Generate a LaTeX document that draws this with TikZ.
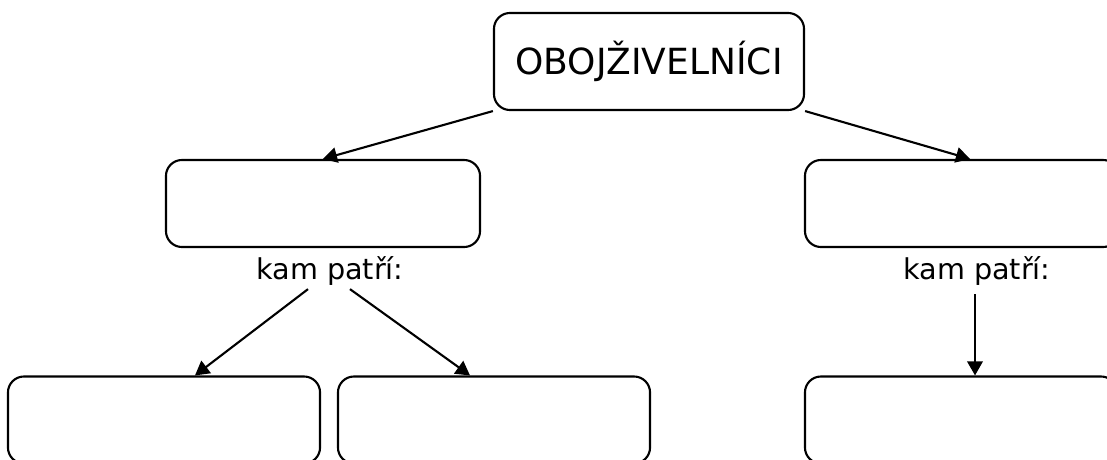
\documentclass[tikz,border=0pt]{standalone}
\usepackage{fontspec}
\setmainfont{DejaVu Sans}
\usetikzlibrary{arrows.meta,calc}

\tikzset{
  box/.style={draw, line width=1.5pt, rounded corners=0.4cm, minimum width=7.85cm, minimum height=2.175cm},
  rootbox/.style={box, minimum width=7.75cm, minimum height=2.425cm, font=\fontsize{25.6}{30}\selectfont},
  where/.style={font=\fontsize{20.4}{24}\selectfont, inner sep=1pt},
  link/.style={-{Triangle[length=10pt,width=11pt]}, line width=1.5pt}
}

\begin{document}
\begin{tikzpicture}[x=0.025cm, y=-0.025cm]
\useasboundingbox (0,0) rectangle (1107,460);
\clip (0,0) rectangle (1107,460);

% Root
\node[rootbox] (root) at (649,61.5) {OBOJŽIVELNÍCI};

% Second level
\node[box] (midL) at (323,203.5) {};
\node[box] (midR) at (962,203.5) {};

% Labels
\node[where] (kamL) at (330,271) {kam patří:};
\node[where] (kamR) at (977,271) {kam patří:};

% Third level
\node[box, minimum width=7.8cm] (botL) at (164,420) {};
\node[box, minimum width=7.8cm] (botM) at (494,420) {};
\node[box, minimum width=7.8cm] (botR) at (961,420) {};

% Arrows
\coordinate (downR) at ($(kamR.south)+(-2,7)$);
\draw[link] (root.south west) -- (midL.north);
\draw[link] (root.south east) -- ($(midR.north)+(8,0)$);
\draw[link] ($(kamL.south)+(-22,2)$) -- ($(botL.north)+(31,0)$);
\draw[link] ($(kamL.south)+(20,2)$) -- ($(botM.north)+(-24,0)$);
\draw[link] (downR) -- (downR |- botR.north);
\end{tikzpicture}
\end{document}
